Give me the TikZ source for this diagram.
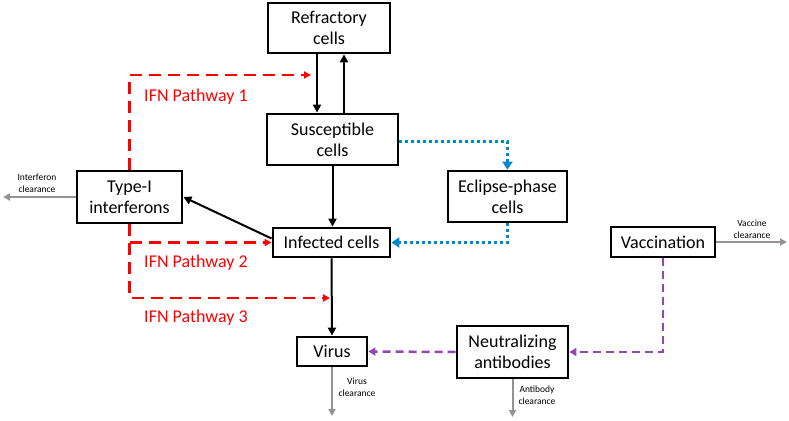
\documentclass[tikz,border=0pt]{standalone}
\usepackage{fontspec}
\setmainfont{Carlito}
\usetikzlibrary{arrows.meta}
\definecolor{ifnred}{RGB}{255,0,0}
\definecolor{eclblue}{RGB}{0,136,204}
\definecolor{vacpurple}{RGB}{150,70,180}
\definecolor{clrgray}{RGB}{150,146,148}
\tikzset{
  box/.style={draw=black,line width=2.8pt,fill=white,align=center,inner sep=0pt,
    font=\fontsize{18}{21}\selectfont},
  blk/.style={line width=2pt,-{Triangle[length=8pt,width=8pt]}},
  ifn/.style={draw=ifnred,line width=2.5pt,dash pattern=on 12pt off 7pt,
    -{Triangle[length=7pt,width=7pt]},ifnred},
  ecl/.style={draw=eclblue,line width=3pt,dash pattern=on 3pt off 3pt,
    -{Triangle[length=8pt,width=10pt]},eclblue},
  vacl/.style={draw=vacpurple,line width=2.5pt,dash pattern=on 8pt off 5pt,
    -{Triangle[length=7pt,width=8pt]},vacpurple},
  clr/.style={draw=clrgray,line width=2pt,-{Triangle[length=7pt,width=7pt]},clrgray},
  ifnlab/.style={text=ifnred,font=\fontsize{18}{21}\selectfont},
  clrlab/.style={align=center,font=\fontsize{9.5}{12}\selectfont}
}
\begin{document}
\begin{tikzpicture}[x=1pt,y=-1pt]
\useasboundingbox (0,0) rectangle (789,420);
% nodes
\node[box,minimum width=122pt,minimum height=50pt] (ref) at (329,28) {Refractory\\cells};
\node[box,minimum width=131pt,minimum height=51pt] (sus) at (332.5,139.5) {Susceptible\\cells};
\node[box,minimum width=105pt,minimum height=52pt] (typ) at (129.5,197) {Type-I\\interferons};
\node[box,minimum width=117pt,minimum height=29pt] (inf) at (331.5,242.5) {Infected cells};
\node[box,minimum width=70pt,minimum height=29pt] (vir) at (332,351.5) {Virus};
\node[box,minimum width=119pt,minimum height=51pt] (ecl) at (507.5,196.5) {Eclipse-phase\\cells};
\node[box,minimum width=104pt,minimum height=30pt] (vac) at (663,242) {Vaccination};
\node[box,minimum width=111pt,minimum height=52pt] (neu) at (512.5,352) {Neutralizing\\antibodies};
% free ends
\coordinate (p1end) at (311,75);
\coordinate (p3end) at (330,298);
\coordinate (ifnclr) at (3,197);
\coordinate (virclr) at (332,416);
\coordinate (vacclr) at (787,242);
\coordinate (abclr) at (512.5,417);
% black connectors
\draw[blk] ([xshift=-12pt]ref.south) -- ([xshift=-12pt]ref.south |- sus.north);
\draw[blk] ([xshift=11.5pt]sus.north) -- ([xshift=11.5pt]sus.north |- ref.south);
\draw[blk] (sus.south) -- (sus.south |- inf.north);
\draw[blk] ([yshift=4pt]inf.west) -- (typ.east);
\draw[blk] (inf.south) -- (vir.north);
% IFN pathways
\draw[ifn] (typ.north) |- (p1end);
\draw[ifn] (typ.south) |- (inf.west);
\draw[ifn] (typ.south) |- (p3end);
\node[ifnlab] (l1) at (196,97) {IFN Pathway 1};
\node[ifnlab] (l2) at (196,263) {IFN Pathway 2};
\node[ifnlab] (l3) at (196,318) {IFN Pathway 3};
% eclipse
\draw[ecl] ([yshift=-1.5pt]sus.east) -| (ecl.north);
\draw[ecl] (ecl.south) |- (inf.east);
% vaccination
\draw[vacl] (vac.south) |- (neu.east);
\draw[vacl] (neu.west) -- (vir.east);
% clearance
\draw[clr] (typ.west) -- (ifnclr);
\draw[clr] (vir.south) -- (virclr);
\draw[clr] (vac.east) -- (vacclr);
\draw[clr] (neu.south) -- (abclr);
\node[clrlab] (c1) at (37,183) {Interferon\\clearance};
\node[clrlab] (c2) at (752,229) {Vaccine\\clearance};
\node[clrlab] (c3) at (357,387) {Virus\\clearance};
\node[clrlab] (c4) at (537,395) {Antibody\\clearance};
\end{tikzpicture}
\end{document}
